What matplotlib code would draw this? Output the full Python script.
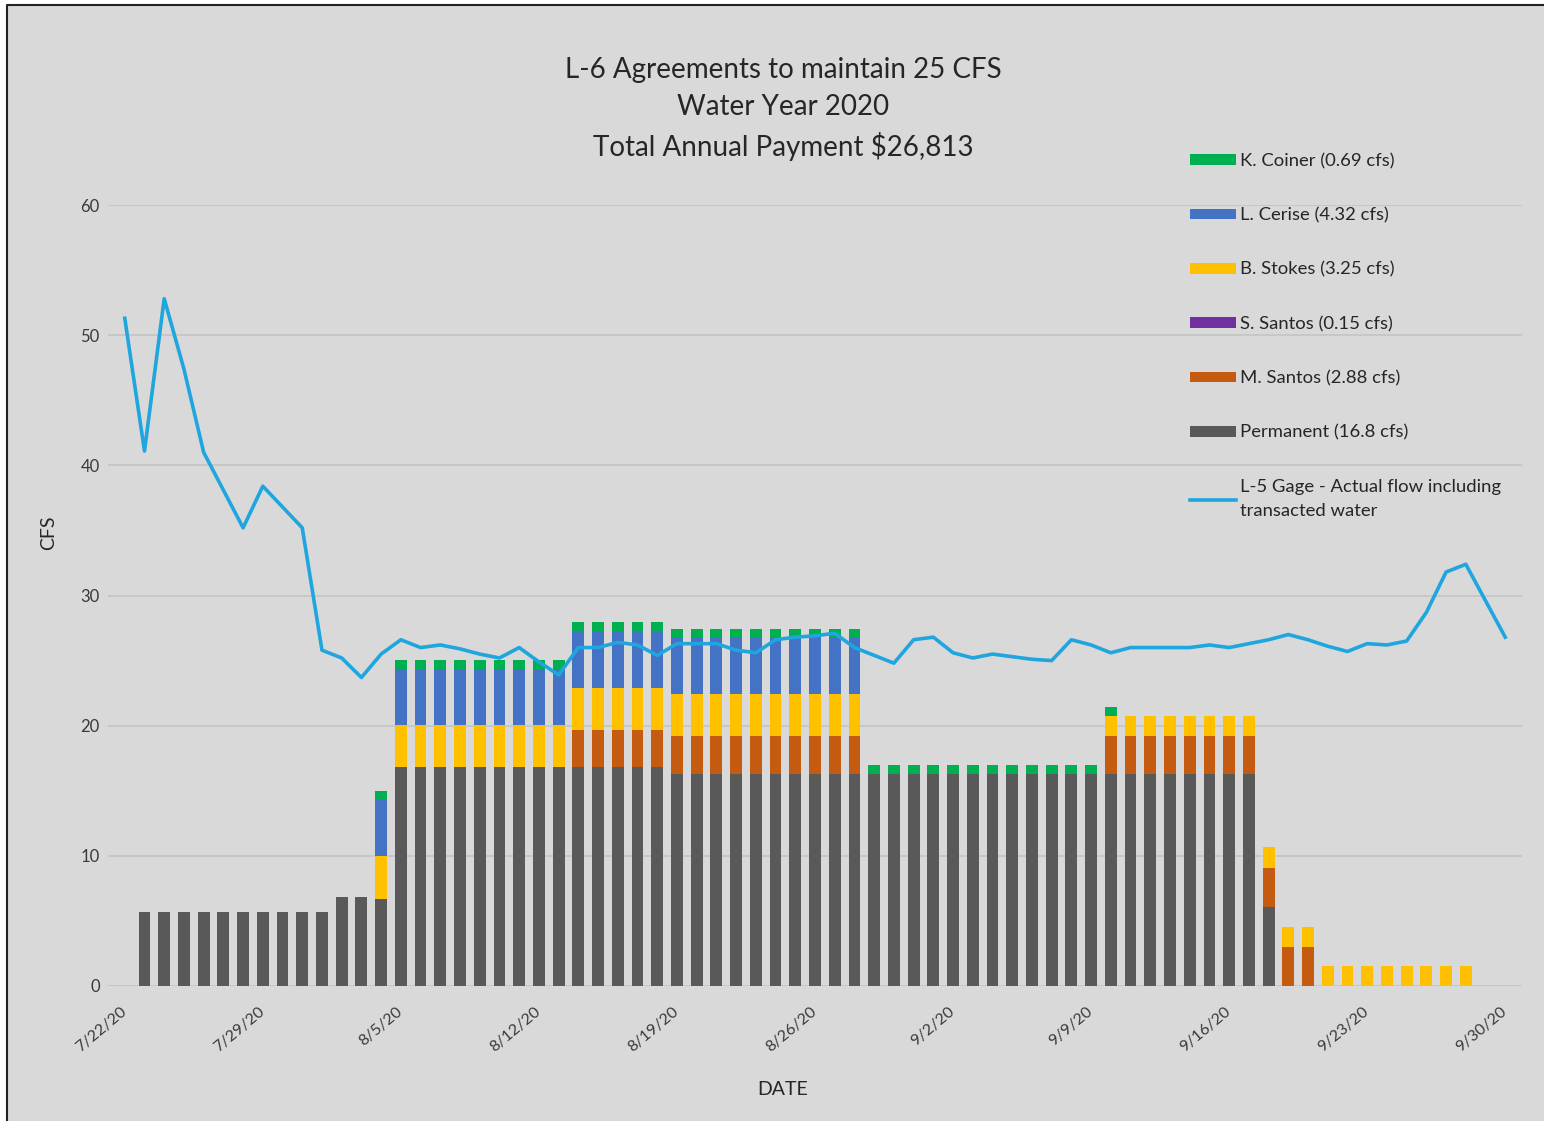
import numpy as np
import pandas as pd
import matplotlib
matplotlib.use('Agg')
import matplotlib.pyplot as plt
from matplotlib.patches import Patch, Rectangle
from matplotlib.lines import Line2D

plt.rcParams['font.family'] = ['Lato', 'DejaVu Sans']

# daily dates 7/22/20 .. 9/30/20
dates = pd.date_range('2020-07-22', '2020-09-30', freq='D')
tick_labels = ['7/22/20', '7/29/20', '8/5/20', '8/12/20', '8/19/20', '8/26/20',
               '9/2/20', '9/9/20', '9/16/20', '9/23/20', '9/30/20']

permanent = [0, 5.7, 5.7, 5.7, 5.7, 5.7, 5.7, 5.7, 5.7, 5.7, 5.7,
             6.8, 6.8, 6.7,
             16.8, 16.8, 16.8, 16.8, 16.8, 16.8, 16.8, 16.8, 16.8, 16.8, 16.8, 16.8, 16.8, 16.8,
             16.3, 16.3, 16.3, 16.3, 16.3, 16.3, 16.3, 16.3, 16.3, 16.3,
             16.3, 16.3, 16.3, 16.3, 16.3, 16.3, 16.3, 16.3, 16.3, 16.3, 16.3, 16.3,
             16.3, 16.3, 16.3, 16.3, 16.3, 16.3, 16.3, 16.3,
             6.1, 0, 0, 0, 0, 0, 0, 0, 0, 0, 0, 0, 0]
m_santos = [0, 0, 0, 0, 0, 0, 0, 0, 0, 0, 0, 0, 0, 0, 0, 0, 0, 0, 0, 0, 0, 0, 0,
            2.88, 2.88, 2.88, 2.88, 2.88, 2.88, 2.88, 2.88, 2.88, 2.88, 2.88, 2.88, 2.88, 2.88, 2.88,
            0, 0, 0, 0, 0, 0, 0, 0, 0, 0, 0, 0,
            2.88, 2.88, 2.88, 2.88, 2.88, 2.88, 2.88, 2.88,
            3.0, 3.0, 3.0, 0, 0, 0, 0, 0, 0, 0, 0, 0, 0]
s_santos = [0, 0, 0, 0, 0, 0, 0, 0, 0, 0, 0, 0, 0, 0, 0, 0, 0, 0, 0, 0, 0, 0, 0, 0,
            0, 0, 0, 0, 0, 0, 0, 0, 0, 0, 0, 0, 0, 0, 0, 0, 0, 0, 0, 0, 0, 0, 0,
            0, 0, 0, 0, 0, 0, 0, 0, 0, 0, 0, 0, 0, 0, 0, 0, 0, 0, 0, 0, 0, 0, 0, 0]
b_stokes = [0, 0, 0, 0, 0, 0, 0, 0, 0, 0, 0, 0, 0,
            3.25, 3.25, 3.25, 3.25, 3.25, 3.25, 3.25, 3.25, 3.25, 3.25, 3.25, 3.25, 3.25,
            3.25, 3.25, 3.25, 3.25, 3.25, 3.25, 3.25, 3.25, 3.25, 3.25, 3.25, 3.25,
            0, 0, 0, 0, 0, 0, 0, 0, 0, 0, 0, 0,
            1.6, 1.6, 1.6, 1.6, 1.6, 1.6, 1.6, 1.6, 1.6,
            1.5, 1.5, 1.5, 1.5, 1.5, 1.5, 1.5, 1.5, 1.5, 1.5, 0, 0]
l_cerise = [0, 0, 0, 0, 0, 0, 0, 0, 0, 0, 0, 0, 0,
            4.32, 4.32, 4.32, 4.32, 4.32, 4.32, 4.32, 4.32, 4.32, 4.32, 4.32, 4.32, 4.32,
            4.32, 4.32, 4.32, 4.32, 4.32, 4.32, 4.32, 4.32, 4.32, 4.32, 4.32, 4.32,
            0, 0, 0, 0, 0, 0, 0, 0, 0, 0, 0, 0, 0, 0, 0, 0, 0, 0, 0, 0, 0, 0, 0,
            0, 0, 0, 0, 0, 0, 0, 0, 0, 0]
k_coiner = [0, 0, 0, 0, 0, 0, 0, 0, 0, 0, 0, 0, 0,
            0.69, 0.69, 0.69, 0.69, 0.69, 0.69, 0.69, 0.69, 0.69, 0.69, 0.69, 0.69, 0.69,
            0.69, 0.69, 0.69, 0.69, 0.69, 0.69, 0.69, 0.69, 0.69, 0.69, 0.69, 0.69,
            0.69, 0.69, 0.69, 0.69, 0.69, 0.69, 0.69, 0.69, 0.69, 0.69, 0.69, 0.69, 0.69,
            0, 0, 0, 0, 0, 0, 0, 0, 0, 0, 0, 0, 0, 0, 0, 0, 0, 0, 0, 0]
l5_flow = [51.3, 41.1, 52.8, 47.4, 41.0, 38.1, 35.2, 38.4, 36.8, 35.2,
           25.8, 25.2, 23.7, 25.5, 26.6, 26.0, 26.2, 25.9, 25.5, 25.2,
           26.0, 24.9, 23.9, 26.0, 26.0, 26.4, 26.2, 25.4, 26.3, 26.3,
           26.3, 25.8, 25.6, 26.6, 26.8, 26.9, 27.1, 26.0, 25.4, 24.8,
           26.6, 26.8, 25.6, 25.2, 25.5, 25.3, 25.1, 25.0, 26.6, 26.2,
           25.6, 26.0, 26.0, 26.0, 26.0, 26.2, 26.0, 26.3, 26.6, 27.0,
           26.6, 26.1, 25.7, 26.3, 26.2, 26.5, 28.7, 31.8, 32.4, 29.6, 26.8]

series = [('Permanent (16.8 cfs)', permanent, '#595959'),
          ('M. Santos (2.88 cfs)', m_santos, '#C55A11'),
          ('S. Santos (0.15 cfs)', s_santos, '#7030A0'),
          ('B. Stokes (3.25 cfs)', b_stokes, '#FFC000'),
          ('L. Cerise (4.32 cfs)', l_cerise, '#4472C4'),
          ('K. Coiner (0.69 cfs)', k_coiner, '#00B050')]
line_label = 'L-5 Gage - Actual flow including\ntransacted water'
line_color = '#1FA6DE'
bg = '#D9D9D9'

W, H = 1544, 1121
fig = plt.figure(figsize=(W / 100, H / 100), dpi=100, facecolor='white')
fig.patches.append(Rectangle((7 / W, 0), 1, 1 - 5 / H, transform=fig.transFigure,
                             facecolor=bg, edgecolor='none', zorder=-5))
# border only on left and top
fig.lines.append(Line2D([7 / W, 7 / W, 1], [0, 1 - 5 / H, 1 - 5 / H], transform=fig.transFigure,
                        color='#222222', lw=1.5))

ax = fig.add_axes([108 / W, 1 - 986 / H, (1522 - 108) / W, (986 - 205) / H])
ax.set_facecolor(bg)

bottom = np.zeros(len(dates))
for name, vals, col in series:
    vals = np.array(vals)
    ax.bar(dates, vals, width=0.6, bottom=bottom, color=col, zorder=2)
    bottom += vals

ax.plot(dates, l5_flow, color=line_color, lw=2.6, zorder=3)

ax.set_ylim(0, 60)
ax.set_xlim(dates[0] - pd.Timedelta(days=0.85), dates[-1] + pd.Timedelta(days=0.85))
ax.set_yticks(np.arange(0, 61, 10))
ax.yaxis.grid(True, color='#C6C6C6', lw=1.3, zorder=0)
ax.set_axisbelow(True)
for s in ax.spines.values():
    s.set_visible(False)

tick_dates = pd.to_datetime(tick_labels, format='%m/%d/%y')
ax.set_xticks(tick_dates)
ax.set_xticklabels(tick_labels, rotation=40, ha='right', va='center', rotation_mode='anchor')
ax.tick_params(axis='x', length=0, pad=17, labelsize=11.5, labelcolor='#3A3A3A')
ax.tick_params(axis='y', length=0, pad=6, labelsize=12, labelcolor='#3A3A3A')

ax.set_ylabel('CFS', fontsize=14, color='#262626')
ax.yaxis.set_label_coords(-0.036, 0.58)
ax.set_xlabel('DATE', fontsize=14, color='#262626')
ax.xaxis.set_label_coords(0.477, -0.122)

fig.text(783 / W, 1 - 109 / H,
         'L-6 Agreements to maintain 25 CFS\nWater Year 2020\nTotal Annual Payment $26,813',
         ha='center', va='center', fontsize=20, color='#262626', linespacing=1.53)

handles = [Patch(facecolor=col, edgecolor='none', label=name) for name, vals, col in series[::-1]]
handles.append(Line2D([0], [0], color=line_color, lw=2.6, label=line_label))
leg = fig.legend(handles=handles, loc='upper left', bbox_to_anchor=(1190 / W, 1 - 153 / H),
                 frameon=False, fontsize=13.3, handlelength=2.5, handleheight=0.5,
                 handletextpad=0.2, labelspacing=2.07, borderpad=0, borderaxespad=0,
                 labelcolor='#262626')
leg.get_texts()[-1].set_linespacing(1.6)

fig.savefig('out.png', dpi=100, facecolor=fig.get_facecolor())
